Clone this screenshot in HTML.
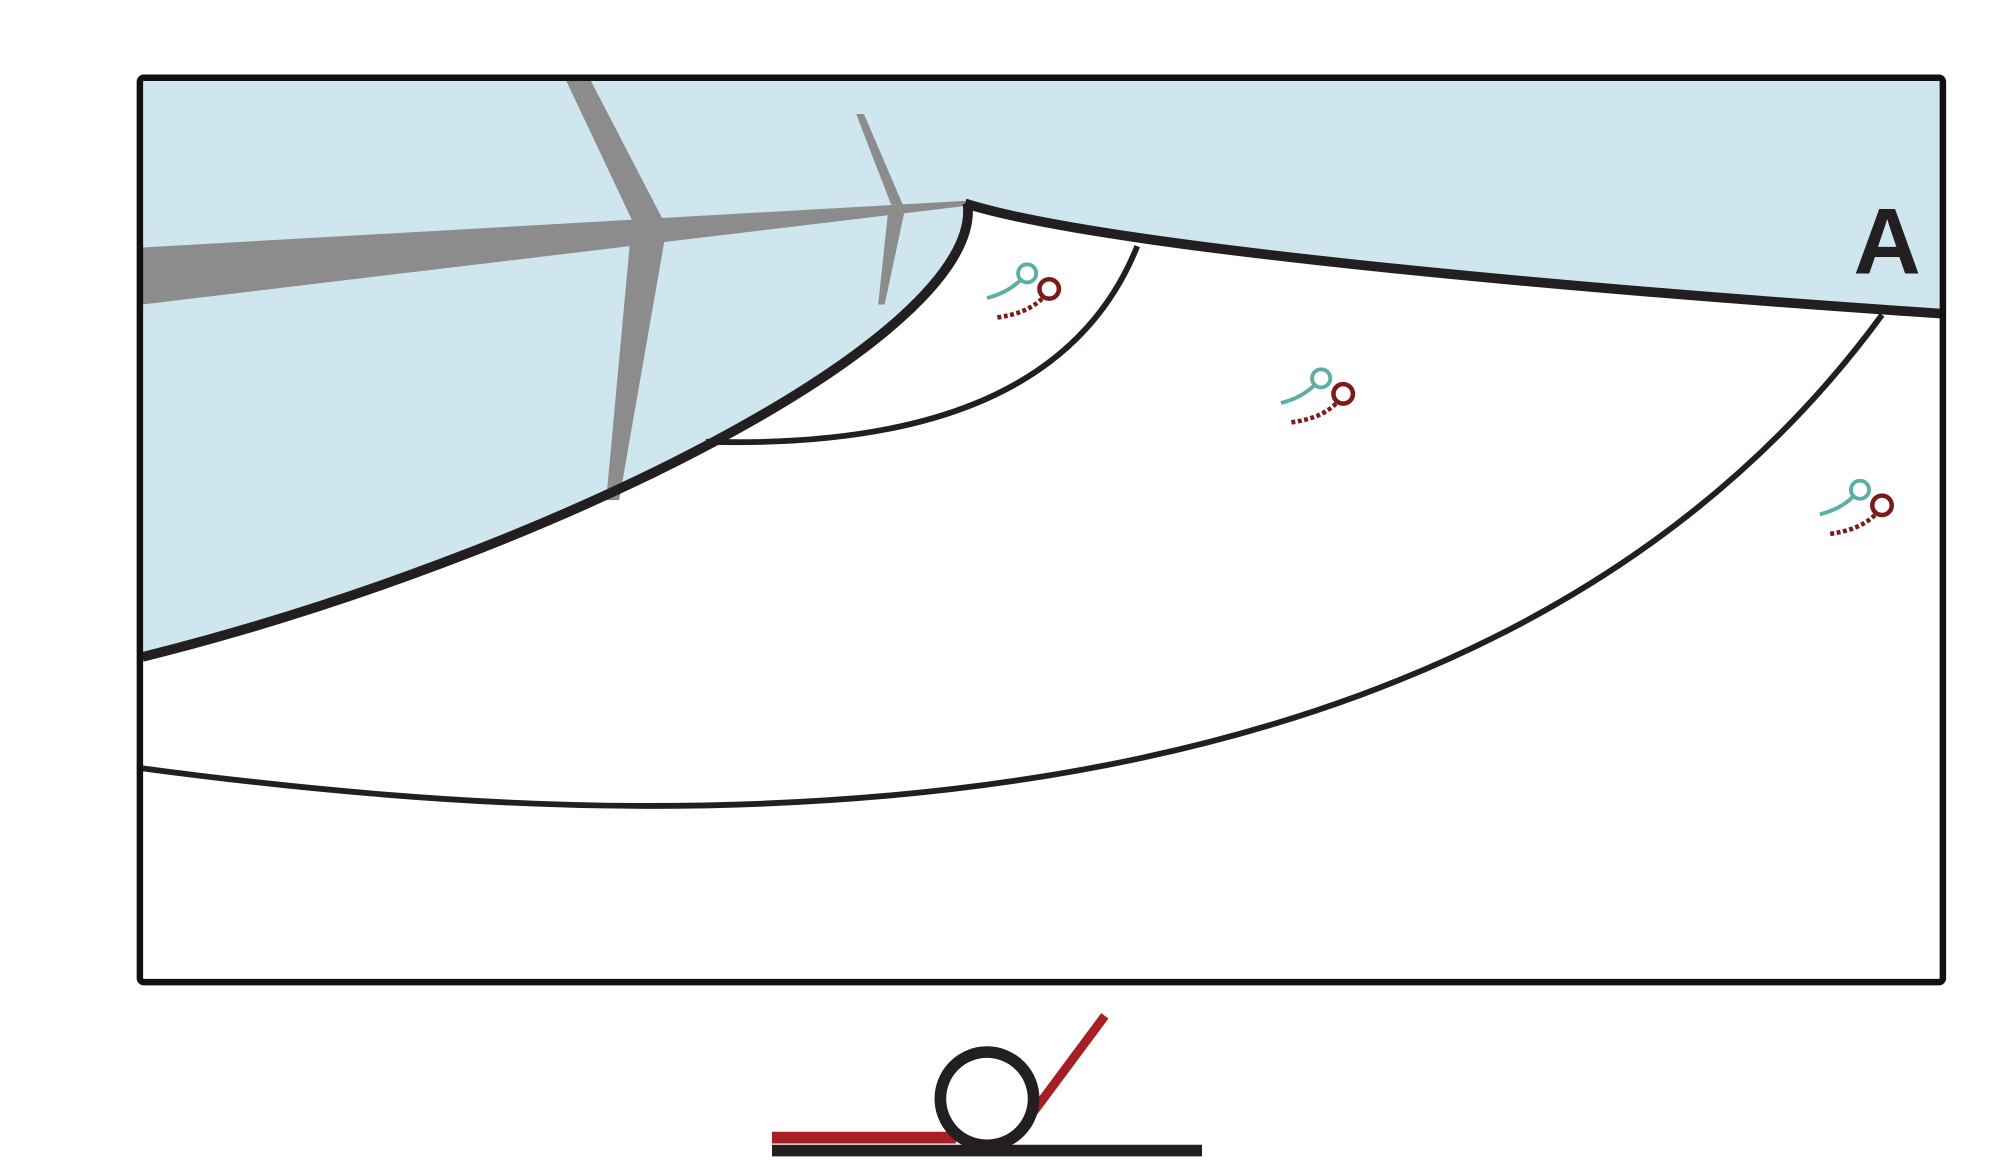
<!DOCTYPE html>
<html><head><meta charset="utf-8"><style>html,body{margin:0;padding:0;background:#fff;}svg{display:block}</style></head>
<body>
<svg width="1996" height="1170" viewBox="0 0 1541 903" preserveAspectRatio="none" xmlns="http://www.w3.org/2000/svg">
<rect x="0" y="0" width="1541" height="903" fill="#fff"/>
<path d="M110,62 L1498,62 L1498,242 C1200,222 850,190 745,157 C760,260 420,430 110,505 Z" fill="#cfe6ee"/>
<g fill="#8c8c8c">
<polygon points="110,191 745,155 745,159 110,235"/>
<polygon points="437,62 456,62 512,170 488,170"/>
<polygon points="487,180 514,180 478,386 468,386"/>
<polygon points="661,88 667,88 697,158 688,158"/>
<polygon points="686,160 699,160 683,235 678,235"/>
</g>
<g fill="none" stroke="#231f20" stroke-linecap="butt">
<path d="M745,157 C850,190 1200,222 1498,242" stroke-width="7.5"/>
<path d="M747,157 C760,260 420,430 110,507" stroke-width="7.5"/>
<path d="M878,190 C830,310 700,345 545,341" stroke-width="4.5"/>
<path d="M1453,243 C1250,520 900,622 500,622 C350,622 200,605 110,593" stroke-width="4.5"/>
</g>
<rect x="108" y="60" width="1392" height="698" rx="3" fill="none" stroke="#111" stroke-width="5"/>
<text x="1457" y="211" font-family="Liberation Sans, sans-serif" font-weight="bold" font-size="72" text-anchor="middle" fill="#231f20">A</text>
<defs>
<g id="s" fill="none">
<path d="M0,0 C12,-3 20,-8 26,-14" stroke="#5bb0a3" stroke-width="3"/>
<circle cx="31" cy="-19" r="7" stroke="#5bb0a3" stroke-width="3"/>
<circle cx="48" cy="-7" r="7.5" stroke="#7b1a1a" stroke-width="3.5"/>
<path d="M8,15 C22,13 34,9 43,0" stroke="#7b1a1a" stroke-width="3.5" stroke-dasharray="3,2"/>
</g>
</defs>
<use href="#s" x="762" y="230"/>
<use href="#s" x="989" y="311"/>
<use href="#s" x="1405" y="397"/>
<line x1="596" y1="878" x2="738" y2="878" stroke="#a81e25" stroke-width="9"/>
<line x1="596" y1="888" x2="928" y2="888" stroke="#231f20" stroke-width="9"/>
<line x1="798" y1="858" x2="853" y2="784" stroke="#a81e25" stroke-width="7"/>
<circle cx="762" cy="848" r="36" fill="none" stroke="#231f20" stroke-width="9"/>
</svg>
</body></html>
